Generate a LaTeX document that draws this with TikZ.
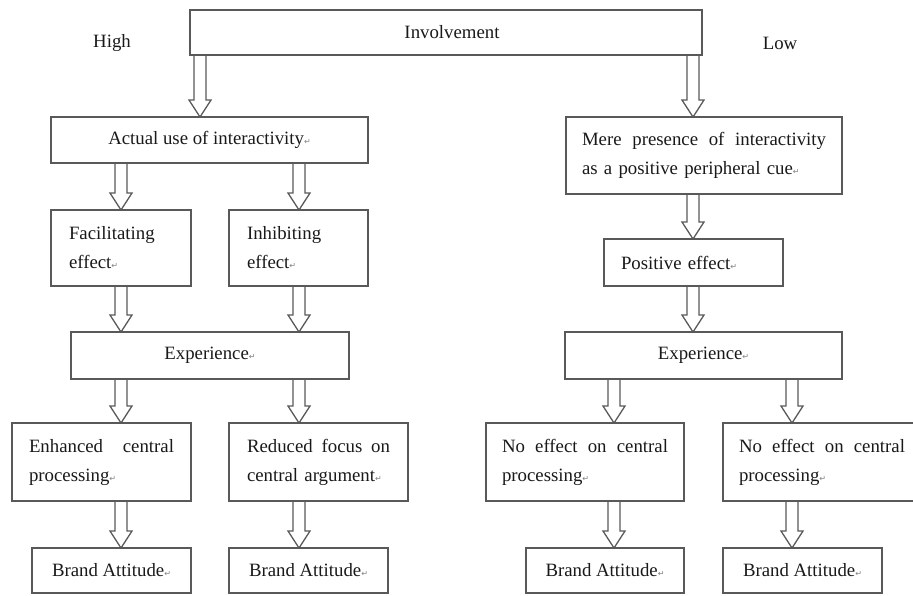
\documentclass[tikz,border=0pt]{standalone}
\usepackage{fontspec}
\setmainfont{Liberation Serif}
\newfontfamily\dejavu{DejaVu Sans}
\usetikzlibrary{calc}
\newcommand\retm{{\dejavu\fontsize{8}{8}\selectfont\textcolor{black!50}{↵}}}
\newcommand\barrow[2]{\draw[barrowline] let \p1=#1, \p2=#2 in
  (\x1-6pt,\y1) -- (\x1-6pt,\y2+17pt) -- (\x1-11pt,\y2+17pt) -- (\x1,\y2)
  -- (\x1+11pt,\y2+17pt) -- (\x1+6pt,\y2+17pt) -- (\x1+6pt,\y1);}
\tikzset{
  txt/.style={text=black!90, font=\fontsize{18.8}{29}\selectfont},
  boxline/.style={draw=black!65, line width=1.3pt},
  box/.style={txt, boxline, anchor=north west, outer sep=0pt, inner ysep=0pt},
  cbox/.style={box, inner xsep=0pt, align=center},
  lbox/.style={box, align=left},
  lbl/.style={txt},
  barrowline/.style={draw=black!65, line width=1.3pt, line join=miter}
}
\begin{document}
\begin{tikzpicture}[x=1pt,y=-1pt]
\useasboundingbox (0,0) rectangle (913,595);
\clip (0,0) rectangle (913,595);
% labels
\node[lbl] (high) at (112,43) {High};
\node[lbl] (low) at (780,43) {Low};
% boxes
\node[cbox, minimum width=512, minimum height=45] (inv) at (190,10) {\hspace*{12pt}Involvement};
\node[cbox, minimum width=317, minimum height=46] (act) at (51,117) {Actual use of interactivity\retm};
\node[lbox, minimum height=77, inner xsep=16, text width=244] (mere) at (566,117)
  {Mere\hfill presence\hfill of\hfill interactivity\\as a positive peripheral cue\retm};
\node[lbox, minimum height=76, inner xsep=18, text width=104] (fac) at (51,210) {Facilitating\\effect\retm};
\node[lbox, minimum height=76, inner xsep=18, text width=103] (inh) at (229,210) {Inhibiting\\effect\retm};
\node[lbox, minimum height=47, inner xsep=17, text width=145] (pos) at (604,239) {Positive effect\retm};
\node[cbox, minimum width=278, minimum height=47] (expL) at (71,332) {Experience\retm};
\node[cbox, minimum width=277, minimum height=47] (expR) at (565,332) {Experience\retm};
\node[lbox, minimum height=78, inner xsep=17, text width=145] (enh) at (12,423) {Enhanced\hfill central\\processing\retm};
\node[lbox, minimum height=78, inner xsep=18, text width=143] (red) at (229,423) {Reduced\hfill focus\hfill on\\central argument\retm};
\node[lbox, minimum height=78, inner xsep=16, text width=166] (ne1) at (486,423) {No\hfill effect\hfill on\hfill central\\processing\retm};
\node[lbox, draw=none, minimum height=78, inner xsep=16, text width=166] (ne2) at (723,423) {No\hfill effect\hfill on\hfill central\\processing\retm};
\draw[boxline] ($(ne2.north west)+(220,0)$) -- (ne2.north west) -- (ne2.south west) -- ++(220,0);
\node[cbox, minimum width=159, minimum height=45] (ba1) at (32,548) {Brand Attitude\retm};
\node[cbox, minimum width=159, minimum height=45] (ba2) at (229,548) {Brand Attitude\retm};
\node[cbox, minimum width=158, minimum height=45] (ba3) at (526,548) {Brand Attitude\retm};
\node[cbox, minimum width=159, minimum height=45] (ba4) at (723,548) {Brand Attitude\retm};
% arrows
\barrow{(200,0 |- inv.south)}{(200,0 |- act.north)}
\barrow{(693,0 |- inv.south)}{(693,0 |- mere.north)}
\barrow{(121,0 |- act.south)}{(121,0 |- fac.north)}
\barrow{(299,0 |- act.south)}{(299,0 |- inh.north)}
\barrow{(121,0 |- fac.south)}{(121,0 |- expL.north)}
\barrow{(299,0 |- inh.south)}{(299,0 |- expL.north)}
\barrow{(693,0 |- mere.south)}{(693,0 |- pos.north)}
\barrow{(693,0 |- pos.south)}{(693,0 |- expR.north)}
\barrow{(121,0 |- expL.south)}{(121,0 |- enh.north)}
\barrow{(299,0 |- expL.south)}{(299,0 |- red.north)}
\barrow{(614,0 |- expR.south)}{(614,0 |- ne1.north)}
\barrow{(792,0 |- expR.south)}{(792,0 |- ne2.north)}
\barrow{(121,0 |- enh.south)}{(121,0 |- ba1.north)}
\barrow{(299,0 |- red.south)}{(299,0 |- ba2.north)}
\barrow{(614,0 |- ne1.south)}{(614,0 |- ba3.north)}
\barrow{(792,0 |- ne2.south)}{(792,0 |- ba4.north)}
\end{tikzpicture}
\end{document}
